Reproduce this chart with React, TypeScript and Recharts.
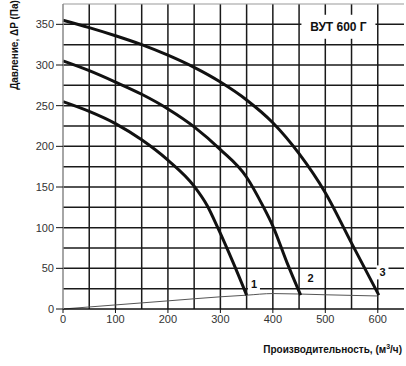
import React from "react";
import {
  LineChart,
  Line,
  XAxis,
  YAxis,
  ReferenceLine,
  ReferenceDot,
} from "recharts";

// fan curves, ΔP (Pa) vs flow (m³/h)
const curve1X = [0, 50, 100, 150, 200, 250, 275, 295, 325, 350];
const curve1Y = [255, 243, 228, 208, 183, 151, 127, 100, 56, 17];

const curve2X = [0, 50, 100, 150, 200, 250, 300, 350, 380, 400, 427, 453];
const curve2Y = [305, 293, 279, 264, 246, 224, 196, 162, 128, 102, 57, 17];

const curve3X = [0, 50, 100, 150, 200, 250, 300, 350, 400, 450, 500, 550, 602];
const curve3Y = [355, 346, 336, 325, 312, 297, 279, 257, 229, 191, 143, 81, 17];

// system line
const systemX = [0, 100, 200, 300, 350, 400, 500, 600];
const systemY = [0, 5, 10, 15, 17, 19, 17.5, 16];

const curveLabels = ["1", "2", "3"];
const labelX = [364, 472, 609];
const labelY = [31, 38, 45];

const xTicks = [0, 100, 200, 300, 400, 500, 600];
const yTicks = [0, 50, 100, 150, 200, 250, 300, 350];
const gridX = [50, 100, 150, 200, 250, 300, 350, 400, 450, 500, 550, 600];
const gridY = [25, 50, 75, 100, 125, 150, 175, 200, 225, 250, 275, 300, 325, 350];

const title = "ВУТ 600 Г";

const toRows = (xs: number[], ys: number[]) => xs.map((x, i) => ({ x, y: ys[i] }));

const FONT = "'Liberation Sans', Arial, sans-serif";

const TagShape = (text: string, w: number, h: number, size: number) =>
  (props: any) => {
    const { cx, cy } = props;
    return (
      <g>
        <rect x={cx - w / 2} y={cy - h / 2} width={w} height={h} fill="#fff" />
        <text
          x={cx}
          y={cy}
          textAnchor="middle"
          dominantBaseline="central"
          fontFamily={FONT}
          fontWeight="bold"
          fontSize={size}
          fill="#111"
        >
          {text}
        </text>
      </g>
    );
  };

export default function App() {
  const lines = [
    toRows(curve1X, curve1Y),
    toRows(curve2X, curve2Y),
    toRows(curve3X, curve3Y),
  ];

  return (
    <div style={{ position: "absolute", left: 0, top: 0, width: 406, height: 366, background: "#fff" }}>
      <LineChart
        width={406}
        height={366}
        margin={{ top: 4, right: 2, left: 8, bottom: 37 }}
      >
        <XAxis
          type="number"
          dataKey="x"
          domain={[0, 650]}
          ticks={xTicks}
          allowDuplicatedCategory={false}
          axisLine={{ stroke: "#111", strokeWidth: 1.5 }}
          tickLine={{ stroke: "#111" }}
          tickSize={4}
          tick={{ fontSize: 11, fill: "#333", fontFamily: FONT }}
          height={20}
        />
        <YAxis
          type="number"
          dataKey="y"
          domain={[0, 375]}
          ticks={yTicks}
          axisLine={{ stroke: "#888", strokeWidth: 1.5 }}
          tickLine={{ stroke: "#111" }}
          tickSize={7}
          tick={{ fontSize: 11, fill: "#333", fontFamily: FONT }}
          width={55}
        />
        {gridX.map((v) => (
          <ReferenceLine key={"gx" + v} x={v} stroke="#1a1a1a" strokeWidth={1.5} />
        ))}
        {gridY.map((v) => (
          <ReferenceLine key={"gy" + v} y={v} stroke="#1a1a1a" strokeWidth={1.5} />
        ))}
        <ReferenceLine y={375} stroke="#999" strokeWidth={1} />
        <Line
          data={toRows(systemX, systemY)}
          dataKey="y"
          type="monotone"
          stroke="#555"
          strokeWidth={1}
          dot={false}
          isAnimationActive={false}
        />
        {lines.map((d, i) => (
          <Line
            key={i}
            data={d}
            dataKey="y"
            type="monotone"
            stroke="#111"
            strokeWidth={3}
            dot={false}
            isAnimationActive={false}
          />
        ))}
        {curveLabels.map((t, i) => (
          <ReferenceDot
            key={t}
            x={labelX[i]}
            y={labelY[i]}
            r={0}
            ifOverflow="visible"
            shape={TagShape(t, 12, 14, 11)}
          />
        ))}
        <ReferenceDot
          x={525}
          y={347}
          r={0}
          shape={TagShape(title, 74, 24, 12)}
        />
      </LineChart>
      <div
        style={{
          position: "absolute",
          left: 14,
          top: 45,
          transform: "translate(-50%, -50%) rotate(-90deg)",
          whiteSpace: "nowrap",
          fontFamily: FONT,
          fontWeight: "bold",
          fontSize: 10,
          color: "#111",
        }}
      >
        Давление, ΔP (Па)
      </div>
      <div
        style={{
          position: "absolute",
          right: 4,
          top: 343,
          whiteSpace: "nowrap",
          fontFamily: FONT,
          fontWeight: "bold",
          fontSize: 10,
          color: "#111",
        }}
      >
        Производительность, (м<sup style={{ fontSize: 7 }}>3</sup>/ч)
      </div>
    </div>
  );
}
